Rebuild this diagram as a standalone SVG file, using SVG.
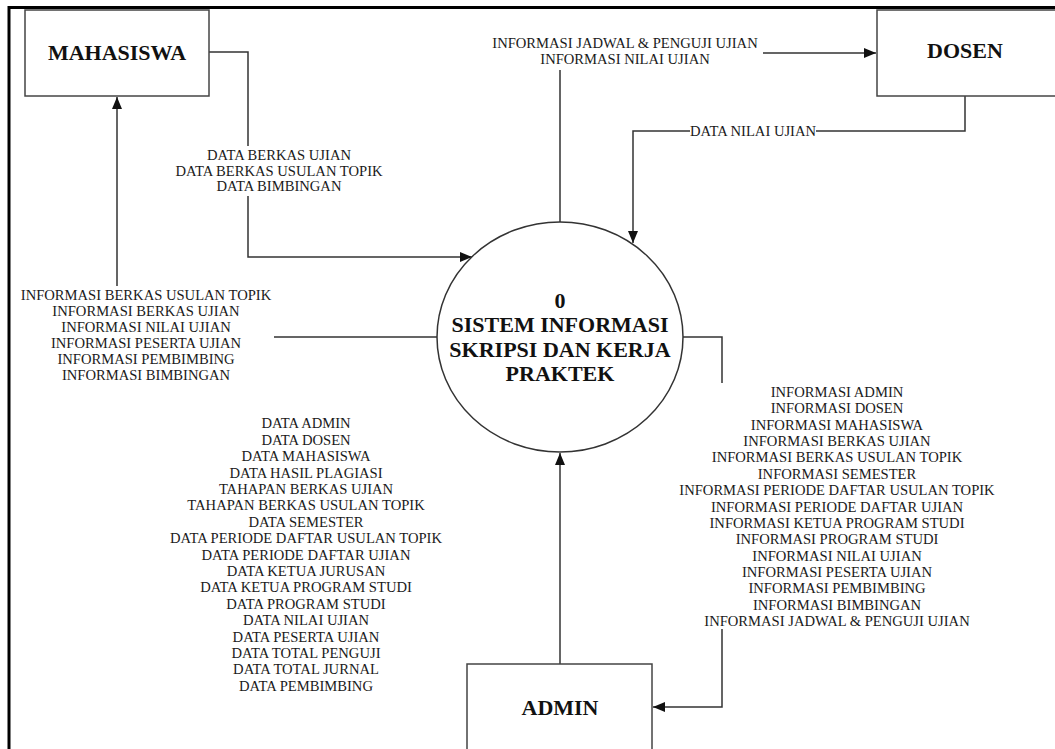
<svg xmlns="http://www.w3.org/2000/svg" width="1055" height="749" viewBox="0 0 1055 749">
  <style>
    .frame { fill: none; stroke: #000; stroke-width: 3; }
    .entity { fill: #fff; stroke: #444; stroke-width: 1.5; }
    .process { fill: #fff; stroke: #333; stroke-width: 1.5; }
    .flow { fill: none; stroke: #333; stroke-width: 1.5; }
    .bg { fill: #fff; stroke: none; }
    .title { font-family: "Liberation Serif", "Times New Roman", serif; font-weight: bold; font-size: 22px; fill: #111; text-anchor: middle; }
    .label { font-family: "Liberation Serif", "Times New Roman", serif; font-size: 14.6px; fill: #1a1a1a; text-anchor: middle; }
  </style>
  <defs>
    <marker id="arrow" viewBox="0 0 12 10" refX="12" refY="5" markerWidth="12" markerHeight="10" markerUnits="userSpaceOnUse" orient="auto">
      <path d="M0,0 L12,5 L0,10 Z" fill="#111"/>
    </marker>
  </defs>

  <rect width="1055" height="749" fill="#fff"/>
  <!-- page frame -->
  <rect class="frame" x="9" y="7.5" width="1100" height="800"/>

  <!-- connectors -->
  <g id="connectors">
    <path class="flow" d="M209,52 H248 V257 H472" marker-end="url(#arrow)"/>
    <path class="flow" d="M437,337 H117 V97" marker-end="url(#arrow)"/>
    <path class="flow" d="M560,223 V53 H876" marker-end="url(#arrow)"/>
    <path class="flow" d="M965,96 V131 H633 V243" marker-end="url(#arrow)"/>
    <path class="flow" d="M560,664 V453" marker-end="url(#arrow)"/>
    <path class="flow" d="M683,337 H722 V707 H653" marker-end="url(#arrow)"/>
  </g>

  <!-- flow labels -->
  <g id="label-mhs-in">
    <rect class="bg" x="170" y="146" width="218" height="50"/>
    <text class="label" x="279" y="160">DATA BERKAS UJIAN</text>
    <text class="label" x="279" y="175.5">DATA BERKAS USULAN TOPIK</text>
    <text class="label" x="279" y="191">DATA BIMBINGAN</text>
  </g>
  <g id="label-mhs-out">
    <rect class="bg" x="18" y="286" width="256" height="98"/>
    <text class="label" x="146" y="300">INFORMASI BERKAS USULAN TOPIK</text>
    <text class="label" x="146" y="316">INFORMASI BERKAS UJIAN</text>
    <text class="label" x="146" y="332">INFORMASI NILAI UJIAN</text>
    <text class="label" x="146" y="348">INFORMASI PESERTA UJIAN</text>
    <text class="label" x="146" y="364">INFORMASI PEMBIMBING</text>
    <text class="label" x="146" y="380">INFORMASI BIMBINGAN</text>
  </g>
  <g id="label-dosen-out">
    <rect class="bg" x="486" y="34" width="277" height="36"/>
    <text class="label" x="625" y="48">INFORMASI JADWAL &amp; PENGUJI UJIAN</text>
    <text class="label" x="625" y="64">INFORMASI NILAI UJIAN</text>
  </g>
  <g id="label-dosen-in">
    <rect class="bg" x="690" y="123" width="126" height="16"/>
    <text class="label" x="753" y="136">DATA NILAI UJIAN</text>
  </g>
  <g id="label-admin-out">
    <rect class="bg" x="674" y="383" width="328" height="246"/>
    <text class="label" x="837" y="397">INFORMASI ADMIN</text>
    <text class="label" x="837" y="413.4">INFORMASI DOSEN</text>
    <text class="label" x="837" y="429.7">INFORMASI MAHASISWA</text>
    <text class="label" x="837" y="446.1">INFORMASI BERKAS UJIAN</text>
    <text class="label" x="837" y="462.4">INFORMASI BERKAS USULAN TOPIK</text>
    <text class="label" x="837" y="478.8">INFORMASI SEMESTER</text>
    <text class="label" x="837" y="495.2">INFORMASI PERIODE DAFTAR USULAN TOPIK</text>
    <text class="label" x="837" y="511.5">INFORMASI PERIODE DAFTAR UJIAN</text>
    <text class="label" x="837" y="527.9">INFORMASI KETUA PROGRAM STUDI</text>
    <text class="label" x="837" y="544.2">INFORMASI PROGRAM STUDI</text>
    <text class="label" x="837" y="560.6">INFORMASI NILAI UJIAN</text>
    <text class="label" x="837" y="577">INFORMASI PESERTA UJIAN</text>
    <text class="label" x="837" y="593.3">INFORMASI PEMBIMBING</text>
    <text class="label" x="837" y="609.7">INFORMASI BIMBINGAN</text>
    <text class="label" x="837" y="626">INFORMASI JADWAL &amp; PENGUJI UJIAN</text>
  </g>
  <g id="label-admin-in">
    <text class="label" x="306" y="428.3">DATA ADMIN</text>
    <text class="label" x="306" y="444.7">DATA DOSEN</text>
    <text class="label" x="306" y="461.1">DATA MAHASISWA</text>
    <text class="label" x="306" y="477.5">DATA HASIL PLAGIASI</text>
    <text class="label" x="306" y="493.9">TAHAPAN BERKAS UJIAN</text>
    <text class="label" x="306" y="510.3">TAHAPAN BERKAS USULAN TOPIK</text>
    <text class="label" x="306" y="526.7">DATA SEMESTER</text>
    <text class="label" x="306" y="543.1">DATA PERIODE DAFTAR USULAN TOPIK</text>
    <text class="label" x="306" y="559.5">DATA PERIODE DAFTAR UJIAN</text>
    <text class="label" x="306" y="575.9">DATA KETUA JURUSAN</text>
    <text class="label" x="306" y="592.3">DATA KETUA PROGRAM STUDI</text>
    <text class="label" x="306" y="608.7">DATA PROGRAM STUDI</text>
    <text class="label" x="306" y="625.1">DATA NILAI UJIAN</text>
    <text class="label" x="306" y="641.5">DATA PESERTA UJIAN</text>
    <text class="label" x="306" y="657.9">DATA TOTAL PENGUJI</text>
    <text class="label" x="306" y="674.3">DATA TOTAL JURNAL</text>
    <text class="label" x="306" y="690.7">DATA PEMBIMBING</text>
  </g>

  <!-- external entities -->
  <g id="mahasiswa">
    <rect class="entity" x="25" y="10" width="184" height="86"/>
    <text class="title" x="117" y="60">MAHASISWA</text>
  </g>
  <g id="dosen">
    <rect class="entity" x="877" y="10" width="200" height="86"/>
    <text class="title" x="965" y="58">DOSEN</text>
  </g>
  <g id="admin">
    <rect class="entity" x="467" y="664" width="185" height="100"/>
    <text class="title" x="560" y="715">ADMIN</text>
  </g>

  <!-- process -->
  <g id="process-0">
    <ellipse class="process" cx="560" cy="337" rx="123" ry="115"/>
    <text class="title" x="560" y="308">0</text>
    <text class="title" x="560" y="332.3">SISTEM INFORMASI</text>
    <text class="title" x="560" y="356.6">SKRIPSI DAN KERJA</text>
    <text class="title" x="560" y="380.9">PRAKTEK</text>
  </g>
</svg>
